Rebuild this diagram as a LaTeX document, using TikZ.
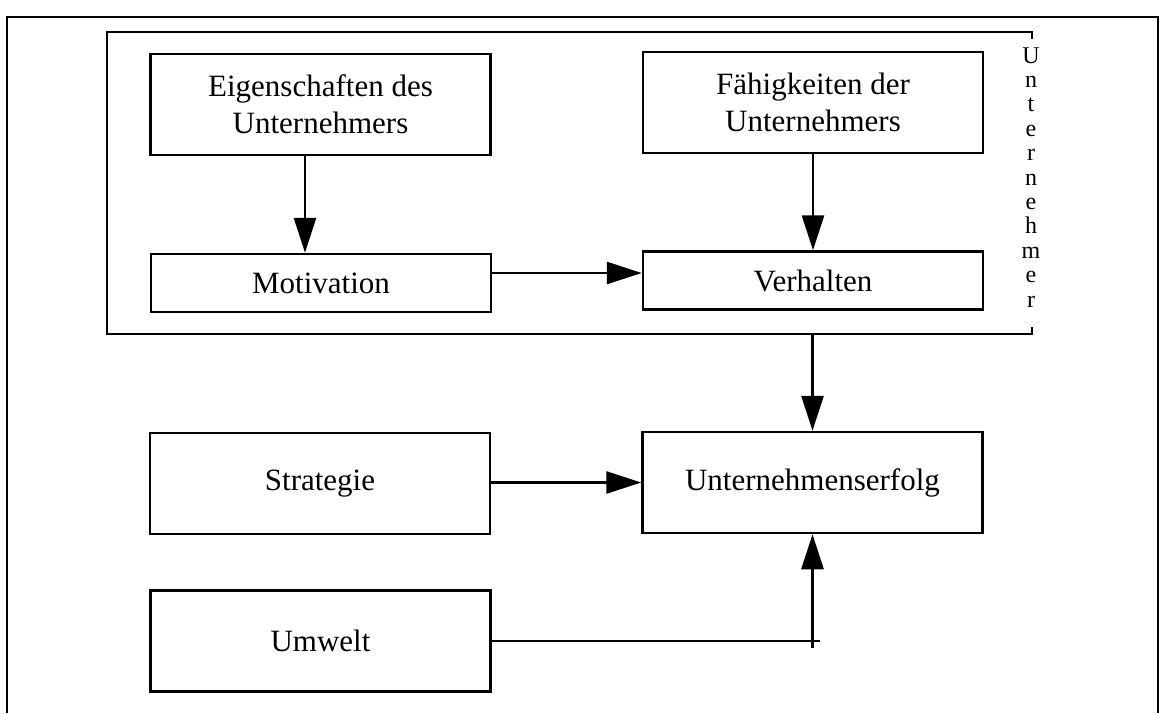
\documentclass[tikz,border=0pt]{standalone}
\usepackage{fontspec}
\setmainfont{Liberation Serif}
\usetikzlibrary{arrows.meta}

\begin{document}
\begin{tikzpicture}[x=1pt,y=-1pt,
  line width=2.5pt,
  boxbig/.style={draw, rectangle, minimum width=340pt, minimum height=101pt,
                 inner sep=0pt, align=center, font=\fontsize{31}{37}\selectfont},
  boxsmall/.style={boxbig, minimum height=58pt},
  arr/.style={-{Triangle[length=35pt,width=22pt]}, line width=2.8pt},
  plain/.style={line width=2.8pt},
  letter/.style={anchor=base, inner sep=0pt, font=\fontsize{24}{24}\selectfont}
]
\useasboundingbox (0,0) rectangle (1165,713);

% outer frame, open at the bottom
\draw (7,713) -- (7,17) -- (1158,17) -- (1158,713);

% bracket around the entrepreneur
\coordinate (ftl) at (107,32);
\coordinate (fbl) at (107,334);
\draw (1032,39) -- (1032,32) -- (ftl) -- (fbl) -- (1032,334) -- (1032,327);

% the word "Unternehmer", one letter below the other
\foreach \c [count=\i from 0] in {U,n,t,e,r,n,e,h,m,e,r}
  \node[letter] (v\i) at (1031,{63+24.4*\i}) {\c};

% boxes
\node[boxbig]   (eig)  at (320.5,104.5) {Eigenschaften des\\Unternehmers};
\node[boxbig]   (fae)  at (813,102.5)   {Fähigkeiten der\\Unternehmers};
\node[boxsmall] (mot)  at (321,283)     {Motivation};
\node[boxsmall] (verh) at (813,280.5)   {Verhalten};
\node[boxbig]   (str)  at (320,483.5)   {Strategie};
\node[boxbig]   (erf)  at (812.5,482.5) {Unternehmenserfolg};
\node[boxbig]   (umw)  at (320.5,641)   {Umwelt};

% connectors
\draw[arr] ([xshift=-15.5pt]eig.south) -- ([xshift=-15.5pt]eig.south |- mot.north);
\draw[arr] (fae.south) -- (fae.south |- verh.north);
\draw[arr] ([yshift=7.5pt]verh.west -| mot.east) -- ([yshift=7.5pt]verh.west);
\draw[arr] (erf.north |- fbl) -- (erf.north);
\draw[arr] (str.east |- erf.west) -- (erf.west);
\coordinate (knick) at (erf.south |- umw.east);
\draw[plain] (umw.east) -- ([xshift=7pt]knick);
\draw[arr] ([yshift=-7pt]knick) -- (erf.south);
\end{tikzpicture}
\end{document}
